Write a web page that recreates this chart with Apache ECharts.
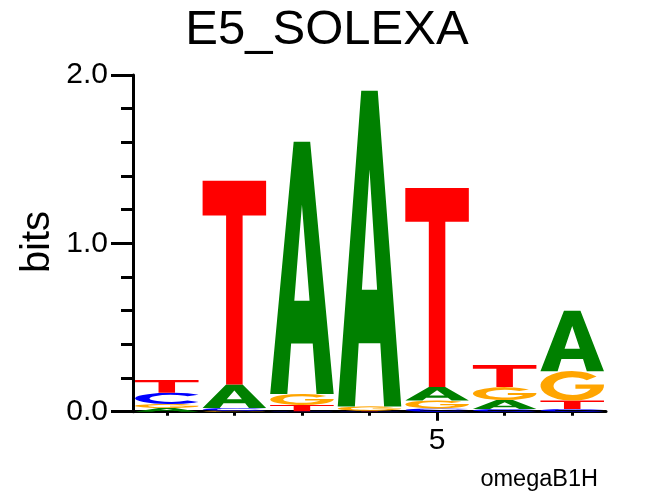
<!DOCTYPE html>
<html>
<head>
<meta charset="utf-8">
<title>E5_SOLEXA</title>
<script src="https://cdn.jsdelivr.net/npm/echarts@6/dist/echarts.min.js"></script>
<style>
  html, body { margin: 0; padding: 0; background: #fff; }
  #chart { width: 654px; height: 496px; }
</style>
</head>
<body>
<div id="chart"></div>
<script>
// motif positions (x axis)
var positions = [1, 2, 3, 4, 5, 6, 7];
// letter heights in bits per position
var heightA = [0.022, 0.139, 1.499, 1.876, 0.080, 0.053, 0.358];
var heightC = [0.066, 0.016, 0.003, 0.003, 0.019, 0.016, 0.016];
var heightG = [0.024, 0.006, 0.065, 0.025, 0.048, 0.077, 0.175];
var heightT = [0.076, 1.211, 0.037, 0.003, 1.182, 0.131, 0.050];
// axis tick labels
var yTicks = [0, 1, 2];
var xLabelTicks = [5];

var heights = { A: heightA, C: heightC, G: heightG, T: heightT };
var letters = ['A', 'C', 'G', 'T'];
var colors = { A: '#008000', C: '#0000ff', G: '#ffa500', T: '#ff0000' };

// glyph outlines in a 100x100 box, stretched to each letter's box
var glyphs = {
    T: 'M0 0 L100 0 L100 17 L63 17 L63 100 L37 100 L37 17 L0 17 Z',
    A: 'M0 100 L37 0 L63 0 L100 100 L73 100 L67 80 L33 80 L27 100 Z M50 25 L38 63 L62 63 Z',
    C: 'M88.3 17.9 A50 50 0 1 0 88.3 82.1 L73 69.3 A30 30 0 1 1 73 30.7 Z',
    G: 'M88.3 17.9 A50 50 0 1 0 99.7 55 L100 45 L55 45 L55 60 L79 60 A30 30 0 1 1 73 30.7 Z'
};

var chart = echarts.init(document.getElementById('chart'));

// stack letters of one column, smallest at the bottom
function renderItem(params, api) {
    var i = params.dataIndex;
    var pos = api.value(0);
    var stack = letters.map(function (l) {
        return { letter: l, h: heights[l][i] };
    });
    stack.sort(function (a, b) { return a.h - b.h; });
    var base = 0;
    var children = [];
    stack.forEach(function (s) {
        var p0 = api.coord([pos - 0.47, base + s.h]);
        var p1 = api.coord([pos + 0.47, base]);
        base += s.h;
        if (p1[1] - p0[1] < 0.5) return;
        children.push({
            type: 'path',
            shape: {
                pathData: glyphs[s.letter],
                layout: 'cover',
                x: p0[0],
                y: p0[1],
                width: p1[0] - p0[0],
                height: p1[1] - p0[1]
            },
            style: { fill: colors[s.letter] }
        });
    });
    return { type: 'group', children: children };
}

var axisLineStyle = { color: '#000', width: 3 };

var option = {
    animation: false,
    backgroundColor: '#fff',
    grid: { left: 133, right: 48, top: 75, bottom: 84.3 },
    xAxis: [{
        type: 'value',
        min: 0.5,
        max: 7.5,
        axisLine: { show: true, onZero: false, lineStyle: axisLineStyle },
        axisTick: { show: true, customValues: positions, length: 4, lineStyle: axisLineStyle },
        axisLabel: { show: false },
        splitLine: { show: false }
    }, {
        type: 'value',
        min: 0.5,
        max: 7.5,
        position: 'bottom',
        axisLine: { show: false },
        axisTick: { show: true, customValues: xLabelTicks, length: 9, lineStyle: axisLineStyle },
        axisLabel: {
            show: true,
            customValues: xLabelTicks,
            margin: 14,
            color: '#000',
            fontSize: 30,
            fontFamily: 'Liberation Sans'
        },
        splitLine: { show: false }
    }],
    yAxis: {
        type: 'value',
        min: 0,
        max: 2,
        interval: 1,
        axisLine: { show: true, lineStyle: axisLineStyle },
        axisTick: { show: true, length: 22, lineStyle: axisLineStyle },
        minorTick: { show: true, splitNumber: 5, length: 12, lineStyle: axisLineStyle },
        axisLabel: {
            margin: 25,
            color: '#000',
            fontSize: 30,
            fontFamily: 'Liberation Sans',
            customValues: yTicks,
            formatter: function (v) { return v.toFixed(1); }
        },
        splitLine: { show: false }
    },
    graphic: [{
        type: 'text',
        x: 327,
        y: 30,
        style: {
            text: 'E5_SOLEXA',
            font: '49px "Liberation Sans"',
            fill: '#000',
            align: 'center',
            verticalAlign: 'middle'
        }
    }, {
        type: 'text',
        x: 38,
        y: 242,
        rotation: Math.PI / 2,
        style: {
            text: 'bits',
            font: '40px "Liberation Sans"',
            fill: '#000',
            align: 'center',
            verticalAlign: 'middle'
        }
    }, {
        type: 'text',
        x: 598,
        y: 480,
        style: {
            text: 'omegaB1H',
            font: '23.5px "Liberation Sans"',
            fill: '#000',
            align: 'right',
            verticalAlign: 'middle'
        }
    }],
    series: [{
        type: 'custom',
        xAxisIndex: 0,
        renderItem: renderItem,
        data: positions.map(function (p) { return [p]; }),
        z: 1
    }]
};

chart.setOption(option);
</script>
</body>
</html>
